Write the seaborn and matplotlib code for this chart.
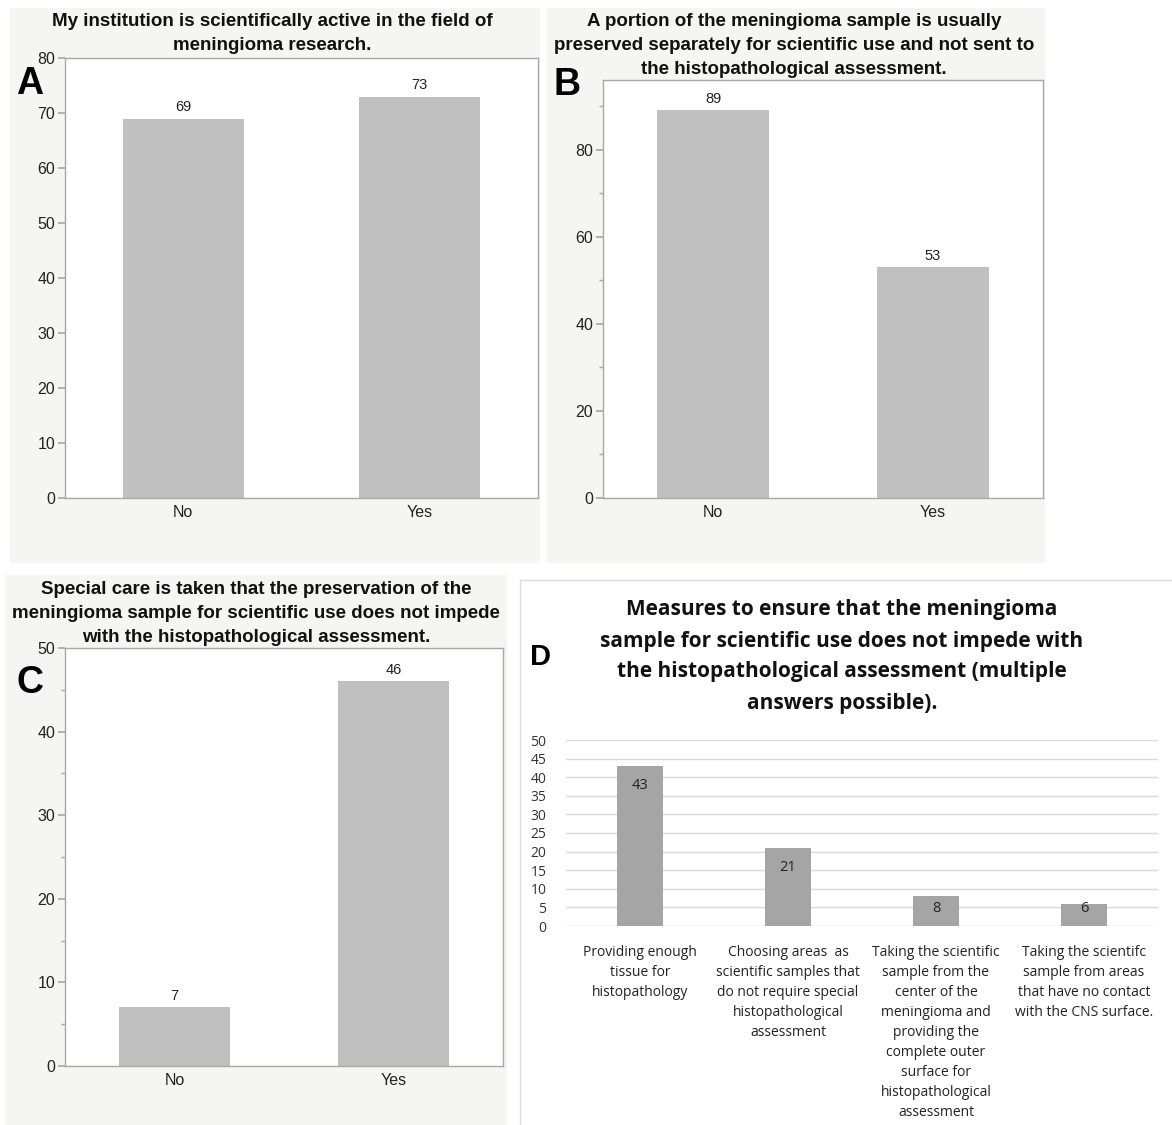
import matplotlib
matplotlib.use("Agg")
import matplotlib.pyplot as plt
from matplotlib.patches import Rectangle
from matplotlib.ticker import MultipleLocator
import seaborn as sns
import pandas as pd

# ---------------- data ----------------
cats_yesno = ["No", "Yes"]
vals_a = [69, 73]
vals_b = [89, 53]
vals_c = [7, 46]

title_a = ["My institution is scientifically active in the field of", "meningioma research."]
title_b = ["A portion of the meningioma sample is usually",
           "preserved separately for scientific use and not sent to",
           "the histopathological assessment."]
title_c = ["Special care is taken that the preservation of the",
           "meningioma sample for scientific use does not impede",
           "with the histopathological assessment."]
title_d = ["Measures to ensure that the meningioma",
           "sample for scientific use does not impede with",
           "the histopathological assessment (multiple",
           "answers possible)."]

cats_d = [
    "Providing enough\ntissue for\nhistopathology",
    "Choosing areas  as\nscientific samples that\ndo not require special\nhistopathological\nassessment",
    "Taking the scientific\nsample from the\ncenter of the\nmeningioma and\nproviding the\ncomplete outer\nsurface for\nhistopathological\nassessment",
    "Taking the scientifc\nsample from areas\nthat have no contact\nwith the CNS surface.",
]
vals_d = [43, 21, 8, 6]

# ---------------- layout helpers ----------------
W, H = 1172, 1125
sns.set_theme(style="white")
plt.rcParams["font.family"] = ["Liberation Sans", "DejaVu Sans"]

fig = plt.figure(figsize=(W / 100, H / 100), dpi=100)
fig.patch.set_facecolor("white")


def px_rect(x0, y0, x1, y1):
    return [x0 / W, 1 - y1 / H, (x1 - x0) / W, (y1 - y0) / H]


def fx(x):
    return x / W


def fy(y):
    return 1 - y / H


def title_lines(lines, xc, y_first, step, **kw):
    for k, line in enumerate(lines):
        fig.text(fx(xc), fy(y_first + k * step), line, ha="center", va="center",
                 zorder=3, **kw)


BG = "#f5f5f1"
for (x0, y0, x1, y1) in [(10, 8, 540, 563), (547, 8, 1045, 563), (5, 575, 507, 1125)]:
    fig.patches.append(Rectangle((fx(x0), fy(y1)), (x1 - x0) / W, (y1 - y0) / H,
                                 transform=fig.transFigure, facecolor=BG, edgecolor="none", zorder=-5))
# panel D frame
fig.add_artist(plt.Line2D([fx(520), fx(1172)], [fy(580), fy(580)], transform=fig.transFigure,
                          color="#dcdcdc", lw=1, zorder=-4))
fig.add_artist(plt.Line2D([fx(520), fx(520)], [fy(580), fy(1125)], transform=fig.transFigure,
                          color="#dcdcdc", lw=1, zorder=-4))

BAR = "#c0c0c0"
SPINE = "#a8a8a8"


def jmp_panel(rect, cats, vals, ylim, major, minor, title, title_pos, letter, letter_xy):
    ax = fig.add_axes(px_rect(*rect))
    ax.set_zorder(2)
    df = pd.DataFrame({"cat": cats, "val": vals})
    sns.barplot(data=df, x="cat", y="val", ax=ax, color=BAR, width=0.51,
                saturation=1, edgecolor="none")
    ax.set_xlim(-0.5, 1.5)
    ax.set_ylim(*ylim)
    ax.yaxis.set_major_locator(MultipleLocator(major))
    if minor:
        ax.yaxis.set_minor_locator(MultipleLocator(minor))
    ax.set_facecolor("white")
    for s in ax.spines.values():
        s.set_color(SPINE)
        s.set_linewidth(1)
    ax.tick_params(axis="y", which="major", length=5, color=SPINE, left=True,
                   labelsize=11.5, labelcolor="#222222", pad=2)
    ax.tick_params(axis="y", which="minor", length=3, color=SPINE, left=True)
    ax.tick_params(axis="x", length=0, labelsize=11.5, labelcolor="#222222", pad=5)
    ax.set_xlabel("")
    ax.set_ylabel("")
    for c in ax.containers:
        ax.bar_label(c, padding=3, fontsize=10.5, color="#222222")
    title_lines(title, *title_pos, fontsize=13.5, fontweight="bold", color="#111111")
    fig.text(fx(letter_xy[0]), fy(letter_xy[1]), letter, ha="center", va="center",
             fontsize=27, fontweight="bold", color="#000000", zorder=3)
    return ax


jmp_panel((65, 58, 538, 498), cats_yesno, vals_a, (0, 80), 10, None,
          title_a, (272, 22, 24), "A", (30, 84))
jmp_panel((603, 80, 1043, 498), cats_yesno, vals_b, (0, 96), 20, 10,
          title_b, (794, 22, 24), "B", (567, 85))
jmp_panel((65, 648, 503, 1066), cats_yesno, vals_c, (0, 50), 10, 5,
          title_c, (256, 590, 23.5), "C", (30, 683))

# ---------------- panel D ----------------
axd = fig.add_axes(px_rect(566, 740, 1158, 926))
axd.set_zorder(2)
dfd = pd.DataFrame({"cat": cats_d, "val": vals_d})
sns.barplot(data=dfd, x="cat", y="val", ax=axd, color="#a5a5a5", width=0.31,
            saturation=1, edgecolor="none", zorder=3)
axd.set_xlim(-0.5, 3.5)
axd.set_ylim(0, 50)
axd.yaxis.set_major_locator(MultipleLocator(5))
axd.grid(axis="y", color="#d9d9d9", lw=1, zorder=0)
axd.set_axisbelow(True)
for s in axd.spines.values():
    s.set_visible(False)
axd.tick_params(axis="y", length=0, labelsize=10, labelcolor="#333333", pad=14)
axd.tick_params(axis="x", length=0, labelsize=10, labelcolor="#222222", pad=14)
for lab in axd.get_xticklabels() + axd.get_yticklabels():
    lab.set_fontfamily(["Open Sans", "DejaVu Sans"])
for lab in axd.get_xticklabels():
    lab.set_linespacing(1.45)
axd.set_xlabel("")
axd.set_ylabel("")
# Excel-style "inside end" labels (kept inside the bar for short bars)
for i, v in enumerate(vals_d):
    axd.text(i, max(v - 5.3, 4.6), str(v), ha="center", va="center", fontsize=10.5,
             color="#222222", family=["Open Sans", "DejaVu Sans"], zorder=4)
title_lines(title_d, 842, 610, 31, fontsize=15, fontweight="bold", color="#111111",
            family=["Open Sans", "DejaVu Sans"])
fig.text(fx(540), fy(657), "D", ha="center", va="center", fontsize=21,
         fontweight="bold", color="#000000", zorder=3)

fig.savefig("out.png", dpi=100, facecolor="white")
